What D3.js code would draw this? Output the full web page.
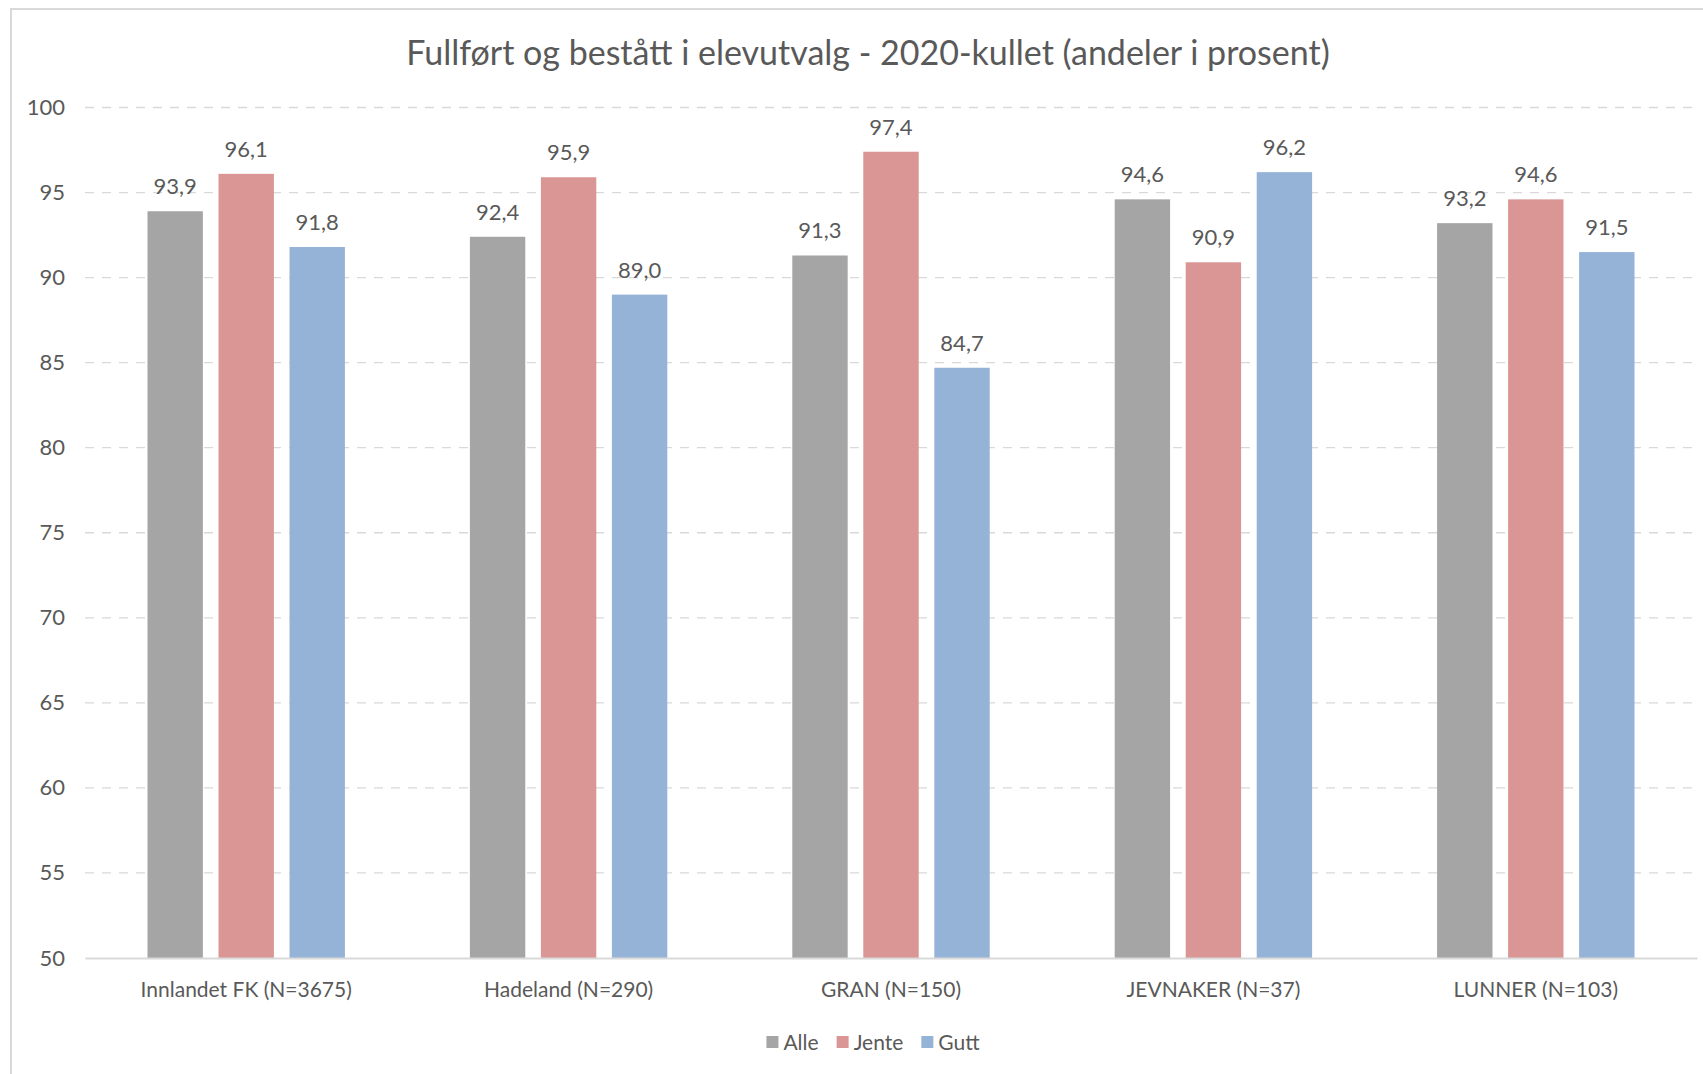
<!DOCTYPE html>
<html>
<head>
<meta charset="utf-8">
<script src="https://cdn.jsdelivr.net/npm/d3@7"></script>
<style>
  body { margin: 0; background: #fff; }
  text { font-family: Lato, "Open Sans", sans-serif; fill: #595959; }
</style>
</head>
<body>
<div id="chart"></div>
<script>
const categories = ['Innlandet FK (N=3675)', 'Hadeland (N=290)', 'GRAN (N=150)', 'JEVNAKER (N=37)', 'LUNNER (N=103)'];
const seriesNames = ['Alle', 'Jente', 'Gutt'];
const alle = [93.9, 92.4, 91.3, 94.6, 93.2];
const jente = [96.1, 95.9, 97.4, 90.9, 94.6];
const gutt = [91.8, 89.0, 84.7, 96.2, 91.5];
const yTicks = [50, 55, 60, 65, 70, 75, 80, 85, 90, 95, 100];

const colors = { 'Alle': '#A5A5A5', 'Jente': '#DA9694', 'Gutt': '#95B3D7' };
const seriesValues = { 'Alle': alle, 'Jente': jente, 'Gutt': gutt };

const W = 1703, H = 1074;
const plot = { left: 85, right: 1697, top: 107.5, bottom: 958 };

const svg = d3.select('#chart').append('svg')
  .attr('width', W)
  .attr('height', H);

svg.append('rect').attr('width', W).attr('height', H).attr('fill', '#fff');

// chart frame (only left and top edges are visible in the crop)
svg.append('path')
  .attr('d', `M11,${H} L11,9 L${W},9`)
  .attr('fill', 'none')
  .attr('stroke', '#D9D9D9')
  .attr('stroke-width', 2);

const x0 = d3.scaleBand().domain(categories).range([plot.left, plot.right]);
const x1 = d3.scaleBand().domain(seriesNames).range([0, x0.bandwidth()])
  .paddingInner(0.22).paddingOuter(0.88);
const y = d3.scaleLinear().domain([50, 100]).range([plot.bottom, plot.top]);

// gridlines
svg.append('g')
  .selectAll('line')
  .data(yTicks.filter(t => t > 50))
  .enter().append('line')
  .attr('x1', plot.left)
  .attr('x2', plot.right)
  .attr('y1', d => y(d))
  .attr('y2', d => y(d))
  .attr('stroke', '#D9D9D9')
  .attr('stroke-width', 1.3)
  .attr('stroke-dasharray', '9,8');

// y axis labels
const yAxis = svg.append('g')
  .attr('transform', `translate(${plot.left},0)`)
  .call(d3.axisLeft(y).tickValues(yTicks).tickSize(0).tickPadding(20));
yAxis.select('.domain').remove();
yAxis.selectAll('text')
  .attr('font-family', 'Lato')
  .attr('font-size', 22)
  .attr('fill', '#595959');

// bars
const rows = categories.map((c, i) => ({ cat: c, values: seriesNames.map(s => ({ key: s, value: seriesValues[s][i] })) }));

const groups = svg.append('g')
  .selectAll('g')
  .data(rows)
  .enter().append('g')
  .attr('transform', d => `translate(${x0(d.cat)},0)`);

groups.selectAll('rect')
  .data(d => d.values)
  .enter().append('rect')
  .attr('x', d => x1(d.key))
  .attr('y', d => y(d.value))
  .attr('width', x1.bandwidth())
  .attr('height', d => y(50) - y(d.value))
  .attr('fill', d => colors[d.key]);

groups.selectAll('text')
  .data(d => d.values)
  .enter().append('text')
  .attr('x', d => x1(d.key) + x1.bandwidth() / 2)
  .attr('y', d => y(d.value) - 17)
  .attr('text-anchor', 'middle')
  .attr('font-size', 22)
  .text(d => d.value.toFixed(1).replace('.', ','));

// x axis
const xAxis = svg.append('g')
  .attr('transform', `translate(0,${plot.bottom})`)
  .call(d3.axisBottom(x0).tickSize(0).tickPadding(24));
xAxis.select('.domain')
  .attr('stroke', '#D9D9D9')
  .attr('stroke-width', 2);
xAxis.selectAll('text')
  .attr('font-family', 'Lato')
  .attr('font-size', 21)
  .attr('fill', '#595959');

// title
svg.append('text')
  .attr('x', 868)
  .attr('y', 65)
  .attr('text-anchor', 'middle')
  .attr('font-size', 34)
  .text('Fullført og bestått i elevutvalg - 2020-kullet (andeler i prosent)');

// legend
const legend = svg.append('g');
const items = legend.selectAll('g')
  .data(seriesNames)
  .enter().append('g');
items.append('rect')
  .attr('width', 12)
  .attr('height', 12)
  .attr('y', 1036)
  .attr('fill', d => colors[d]);
items.append('text')
  .attr('x', 17)
  .attr('y', 1050)
  .attr('font-size', 21)
  .text(d => d);

let cursor = 0;
items.each(function() {
  const g = d3.select(this);
  g.attr('transform', `translate(${cursor},0)`);
  cursor += 17 + g.select('text').node().getComputedTextLength() + 18;
});
const legendWidth = cursor - 18;
legend.attr('transform', `translate(${873 - legendWidth / 2},0)`);
</script>
</body>
</html>
